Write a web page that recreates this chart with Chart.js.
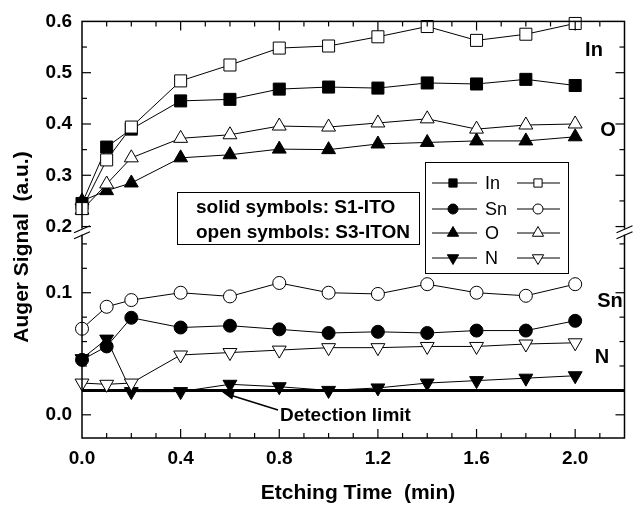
<!DOCTYPE html>
<html>
<head>
<meta charset="utf-8">
<script src="https://cdn.jsdelivr.net/npm/chart.js@4.4.0/dist/chart.umd.min.js"></script>
<style>
  html, body { margin: 0; padding: 0; background: #fff; }
  #auger { display: block; }
</style>
</head>
<body>
<canvas id="auger" width="634" height="508"></canvas>
<script>
// Etching time (min) and Auger signal (a.u.) per element / sample
const etchTime = [0, 0.1, 0.2, 0.4, 0.6, 0.8, 1.0, 1.2, 1.4, 1.6, 1.8, 2.0];

const inS1 = [0.245, 0.355, 0.390, 0.445, 0.448, 0.468, 0.472, 0.470, 0.480, 0.478, 0.487, 0.475];
const inS3 = [0.235, 0.330, 0.394, 0.484, 0.515, 0.548, 0.552, 0.570, 0.590, 0.563, 0.575, 0.596];
const oS1 = [0.250, 0.270, 0.285, 0.334, 0.340, 0.351, 0.350, 0.361, 0.364, 0.367, 0.367, 0.375];
const oS3 = [0.232, 0.283, 0.334, 0.372, 0.379, 0.396, 0.394, 0.402, 0.410, 0.390, 0.398, 0.400];
const snS1 = [0.045, 0.056, 0.0795, 0.0715, 0.073, 0.070, 0.067, 0.068, 0.067, 0.069, 0.069, 0.077];
const snS3 = [0.0705, 0.0885, 0.094, 0.100, 0.097, 0.108, 0.100, 0.099, 0.107, 0.100, 0.0975, 0.107];
const nS1 = [0.046, 0.062, 0.019, 0.019, 0.025, 0.023, 0.020, 0.022, 0.026, 0.028, 0.030, 0.032];
const nS3 = [0.026, 0.025, 0.026, 0.049, 0.051, 0.053, 0.055, 0.055, 0.056, 0.056, 0.058, 0.059];

const detectionLimit = 0.02;

// tick labels
const xTicks = [0, 0.4, 0.8, 1.2, 1.6, 2.0];
const yHighTicks = [0.2, 0.3, 0.4, 0.5, 0.6];
const yLowTicks = [0.0, 0.1];

const legendRows = ['In', 'Sn', 'O', 'N'];
const infoLines = ['solid symbols: S1-ITO', 'open symbols: S3-ITON'];

const FONT = "'Liberation Sans', Arial, Helvetica, sans-serif";
Chart.defaults.font.family = FONT;
Chart.defaults.color = '#000';

const SYM = {
  In: { style: 'rect', r: 8.5, rot: 0 },
  Sn: { style: 'circle', r: 6.5, rot: 0 },
  O: { style: 'triangle', r: 8, rot: 0 },
  N: { style: 'triangle', r: 8, rot: 180 },
};

function series(label, el, vals, axis, open) {
  const s = SYM[el];
  return {
    label: label,
    data: vals.map((v, i) => ({ x: etchTime[i], y: v })),
    yAxisID: axis,
    borderColor: '#000',
    borderWidth: 1,
    pointStyle: s.style,
    pointRotation: s.rot,
    pointRadius: s.r,
    pointHoverRadius: s.r,
    pointBackgroundColor: open ? '#fff' : '#000',
    pointBorderColor: '#000',
    pointBorderWidth: 1,
    tension: 0,
    fill: false,
    clip: false,
  };
}

// open symbols first so they end up drawn on top
const datasets = [
  series('In S3-ITON', 'In', inS3, 'yHigh', true),
  series('In S1-ITO', 'In', inS1, 'yHigh', false),
  series('O S3-ITON', 'O', oS3, 'yHigh', true),
  series('O S1-ITO', 'O', oS1, 'yHigh', false),
  series('Sn S3-ITON', 'Sn', snS3, 'yLow', true),
  series('Sn S1-ITO', 'Sn', snS1, 'yLow', false),
  series('N S3-ITON', 'N', nS3, 'yLow', true),
  series('N S1-ITO', 'N', nS1, 'yLow', false),
];

function drawSym(ctx, el, x, y, r, filled) {
  const s = SYM[el];
  ctx.save();
  ctx.beginPath();
  if (s.style === 'rect') {
    const h = r * Math.SQRT1_2;
    ctx.rect(x - h, y - h, 2 * h, 2 * h);
  } else if (s.style === 'circle') {
    ctx.arc(x, y, r, 0, Math.PI * 2);
  } else {
    const dir = s.rot === 180 ? -1 : 1;
    ctx.moveTo(x, y - dir * r);
    ctx.lineTo(x + r * 0.866, y + dir * r / 2);
    ctx.lineTo(x - r * 0.866, y + dir * r / 2);
    ctx.closePath();
  }
  ctx.fillStyle = filled ? '#000' : '#fff';
  ctx.fill();
  ctx.lineWidth = 1;
  ctx.strokeStyle = '#000';
  ctx.stroke();
  ctx.restore();
}

function line(ctx, x1, y1, x2, y2, w) {
  ctx.beginPath();
  ctx.lineWidth = w;
  ctx.moveTo(x1, y1);
  ctx.lineTo(x2, y2);
  ctx.stroke();
}

const decorations = {
  id: 'decorations',
  beforeDatasetsDraw(chart) {
    const { ctx, chartArea: a } = chart;
    const y = chart.scales.yLow.getPixelForValue(detectionLimit);
    ctx.save();
    ctx.strokeStyle = '#000';
    line(ctx, a.left, y, a.right, y, 3);
    ctx.restore();
  },
  afterDraw(chart) {
    const { ctx, chartArea: a } = chart;
    const xs = chart.scales.x;
    const yh = chart.scales.yHigh;
    const yl = chart.scales.yLow;
    ctx.save();
    ctx.strokeStyle = '#000';
    ctx.fillStyle = '#000';

    // frame
    ctx.lineWidth = 1.5;
    ctx.strokeRect(a.left, a.top, a.right - a.left, a.bottom - a.top);

    // inward ticks, x: minor 0.1, major 0.4
    for (let i = 1; i < 22; i++) {
      const px = xs.getPixelForValue(i / 10);
      const len = i % 4 === 0 ? 9 : 5;
      line(ctx, px, a.bottom, px, a.bottom - len, 1.2);
      line(ctx, px, a.top, px, a.top + len, 1.2);
    }
    // y upper: minor 0.05, major 0.1
    for (let i = 4; i < 12; i++) {
      const py = yh.getPixelForValue(i / 20);
      const len = i % 2 === 0 ? 9 : 5;
      line(ctx, a.left, py, a.left + len, py, 1.2);
      line(ctx, a.right, py, a.right - len, py, 1.2);
    }
    // y lower: minor 0.02, major 0.1
    for (let i = 0; i < 8; i++) {
      const py = yl.getPixelForValue(i / 50);
      const len = i % 5 === 0 ? 9 : 5;
      line(ctx, a.left, py, a.left + len, py, 1.2);
      line(ctx, a.right, py, a.right - len, py, 1.2);
    }

    // axis break marks
    const b = yh.bottom;
    [a.left, a.right].forEach((bx) => {
      ctx.fillStyle = '#fff';
      ctx.fillRect(bx - 2, b - 3, 4, 6);
      ctx.strokeStyle = '#000';
      line(ctx, bx - 8, b + 1, bx + 8, b - 6, 1.2);
      line(ctx, bx - 8, b + 7, bx + 8, b, 1.2);
    });
    ctx.fillStyle = '#000';

    // series labels
    ctx.font = 'bold 20px ' + FONT;
    ctx.textAlign = 'center';
    ctx.textBaseline = 'middle';
    ctx.fillText('In', 594, 50);
    ctx.fillText('O', 608, 130);
    ctx.fillText('Sn', 610, 301);
    ctx.fillText('N', 602, 357);

    // detection limit arrow
    ctx.font = 'bold 19px ' + FONT;
    ctx.textAlign = 'left';
    ctx.fillText('Detection limit', 280, 416);
    const tx = 222, ty = 392, fx = 278, fy = 410;
    line(ctx, fx, fy, tx + 8, ty + 3, 1.5);
    const ang = Math.atan2(ty - fy, tx - fx);
    ctx.beginPath();
    ctx.moveTo(tx, ty);
    ctx.lineTo(tx - 12 * Math.cos(ang) + 4 * Math.sin(ang), ty - 12 * Math.sin(ang) - 4 * Math.cos(ang));
    ctx.lineTo(tx - 12 * Math.cos(ang) - 4 * Math.sin(ang), ty - 12 * Math.sin(ang) + 4 * Math.cos(ang));
    ctx.closePath();
    ctx.fill();

    // info box
    ctx.fillStyle = '#fff';
    ctx.fillRect(177, 192, 242, 52);
    ctx.lineWidth = 1;
    ctx.strokeRect(177.5, 192.5, 242, 52);
    ctx.fillStyle = '#000';
    ctx.font = 'bold 19px ' + FONT;
    ctx.fillText(infoLines[0], 196, 208);
    ctx.fillText(infoLines[1], 196, 233);

    // legend box
    ctx.fillStyle = '#fff';
    ctx.fillRect(425, 162, 143, 111);
    ctx.strokeRect(425.5, 162.5, 143, 111);
    ctx.fillStyle = '#000';
    ctx.font = '18px ' + FONT;
    const rowY = [183, 209, 233, 258];
    const legR = { In: 5.8, Sn: 5, O: 6.5, N: 6.5 };
    legendRows.forEach((el, i) => {
      const y = rowY[i];
      line(ctx, 432, y, 477, y, 1);
      drawSym(ctx, el, 453, y, legR[el], true);
      ctx.fillText(el, 485, y + 1);
      line(ctx, 517, y, 560, y, 1);
      drawSym(ctx, el, 538, y, legR[el], false);
    });

    // y axis title
    ctx.save();
    ctx.translate(22, 247);
    ctx.rotate(-Math.PI / 2);
    ctx.font = 'bold 21px ' + FONT;
    ctx.textAlign = 'center';
    ctx.fillText('Auger Signal  (a.u.)', 0, 0);
    ctx.restore();

    // x axis title
    ctx.font = 'bold 21px ' + FONT;
    ctx.textAlign = 'center';
    ctx.fillText('Etching Time  (min)', 358, 493);
    ctx.restore();
  },
};

const tickFont = { family: FONT, size: 19, weight: 'bold' };
const fmt = (v) => Number(v).toFixed(1);

new Chart(document.getElementById('auger').getContext('2d'), {
  type: 'line',
  data: { datasets: datasets },
  options: {
    responsive: false,
    animation: false,
    devicePixelRatio: 1,
    layout: { padding: { top: 20, right: 2, left: 0, bottom: 0 } },
    plugins: { legend: { display: false }, tooltip: { enabled: false } },
    scales: {
      x: {
        type: 'linear',
        min: 0,
        max: 2.2,
        grid: { display: false, drawTicks: false },
        border: { display: false },
        afterBuildTicks: (s) => { s.ticks = xTicks.map((v) => ({ value: v })); },
        ticks: { font: tickFont, color: '#000', padding: 9, maxRotation: 0, autoSkip: false, callback: fmt },
        afterFit: (s) => { s.height = 70; },
      },
      yLow: {
        type: 'linear',
        position: 'left',
        stack: 'y',
        stackWeight: 207,
        min: -0.019,
        max: 0.15,
        grid: { display: false, drawTicks: false },
        border: { display: false },
        afterBuildTicks: (s) => { s.ticks = yLowTicks.map((v) => ({ value: v })); },
        ticks: { font: tickFont, color: '#000', padding: 10, autoSkip: false, callback: fmt },
        afterFit: (s) => { s.width = 82; },
      },
      yHigh: {
        type: 'linear',
        position: 'left',
        stack: 'y',
        stackWeight: 211,
        min: 0.19,
        max: 0.6,
        grid: { display: false, drawTicks: false },
        border: { display: false },
        afterBuildTicks: (s) => { s.ticks = yHighTicks.map((v) => ({ value: v })); },
        ticks: { font: tickFont, color: '#000', padding: 10, autoSkip: false, callback: fmt },
        afterFit: (s) => { s.width = 82; },
      },
    },
  },
  plugins: [decorations],
});
</script>
</body>
</html>
